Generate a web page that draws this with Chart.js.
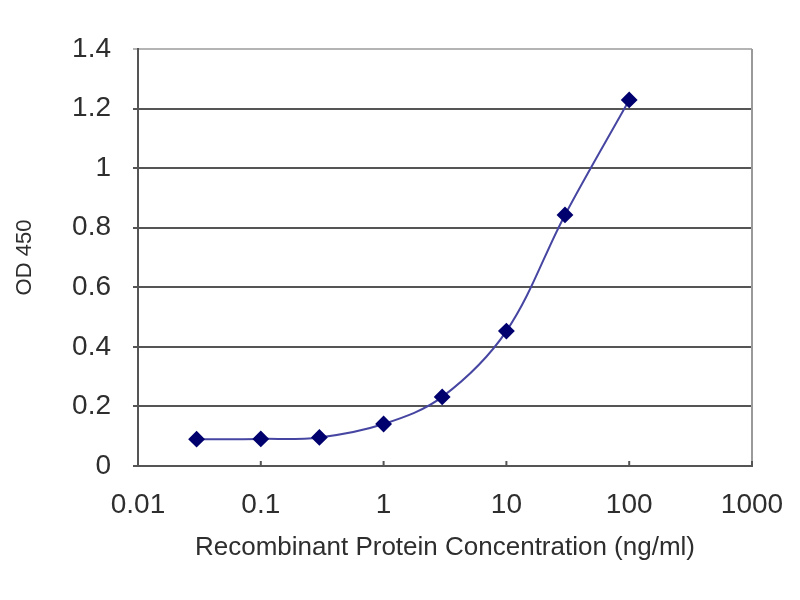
<!DOCTYPE html>
<html>
<head>
<meta charset="utf-8">
<script src="https://cdn.jsdelivr.net/npm/chart.js@4.4.1/dist/chart.umd.min.js"></script>
<style>
  html, body { margin: 0; padding: 0; background: #fff; }
  #wrap { width: 800px; height: 600px; }
</style>
</head>
<body>
<div id="wrap"><canvas id="odChart"></canvas></div>
<script>
// data
var concentrations = [0.03, 0.1, 0.3, 1, 3, 10, 30, 100];
var od450 = [0.090, 0.091, 0.096, 0.141, 0.232, 0.453, 0.843, 1.229];
var xTicks = [0.01, 0.1, 1, 10, 100, 1000];
var xTickLabels = ['0.01', '0.1', '1', '10', '100', '1000'];
var yTicks = [0, 0.2, 0.4, 0.6, 0.8, 1, 1.2, 1.4];
var yTickLabels = ['0', '0.2', '0.4', '0.6', '0.8', '1', '1.2', '1.4'];

var points = concentrations.map(function (c, i) { return { x: c, y: od450[i] } });

// right edge of the plot area + small inward x tick marks (Excel style)
var frame = {
  id: 'frame',
  beforeDatasetsDraw: function (chart) {
    var a = chart.chartArea, c = chart.ctx, xs = chart.scales.x;
    c.save();
    c.strokeStyle = '#9a9a9a';
    c.lineWidth = 2;
    c.beginPath();
    c.moveTo(a.right, a.top);
    c.lineTo(a.right, a.bottom);
    c.stroke();
    c.strokeStyle = '#555';
    c.beginPath();
    xTicks.forEach(function (v) {
      var px = xs.getPixelForValue(v);
      c.moveTo(px, a.bottom);
      c.lineTo(px, a.bottom - 5);
    });
    c.stroke();
    c.restore();
  }
};

var ctx = document.getElementById('odChart').getContext('2d');

var chart = new Chart(ctx, {
  type: 'line',
  data: {
    datasets: [{
      data: points,
      borderColor: '#4646a2',
      borderWidth: 2,
      tension: 0.35,
      pointStyle: 'rectRot',
      pointRadius: 7,
      pointBackgroundColor: '#00006e',
      pointBorderColor: '#00006e',
      fill: false
    }]
  },
  options: {
    responsive: true,
    maintainAspectRatio: false,
    animation: false,
    layout: { padding: { top: 49, right: 48, bottom: 0, left: 0 } },
    plugins: { legend: { display: false }, tooltip: { enabled: false } },
    scales: {
      x: {
        type: 'logarithmic',
        min: 0.01,
        max: 1000,
        afterBuildTicks: function (scale) {
          scale.ticks = xTicks.map(function (v) { return { value: v } });
        },
        afterFit: function (scale) {
          scale.height = 134;
          scale.paddingLeft = 0;
          scale.paddingRight = 0;
        },
        grid: { display: false, drawTicks: false },
        border: { display: true, color: '#555', width: 2 },
        ticks: {
          autoSkip: false,
          maxRotation: 0,
          padding: 22,
          color: '#2e2e2e',
          font: { family: 'Liberation Sans, Arial, sans-serif', size: 28 },
          callback: function (v) {
            var i = xTicks.indexOf(v);
            return i >= 0 ? xTickLabels[i] : '';
          }
        },
        title: {
          display: true,
          text: 'Recombinant Protein Concentration (ng/ml)',
          color: '#2e2e2e',
          font: { family: 'Liberation Sans, Arial, sans-serif', size: 26 },
          padding: { top: 0, bottom: 37 }
        }
      },
      y: {
        min: 0,
        max: 1.4,
        afterBuildTicks: function (scale) {
          scale.ticks = yTicks.map(function (v) { return { value: v } });
        },
        afterFit: function (scale) { scale.width = 138 },
        grid: {
          color: function (c) { return c.tick && c.tick.value === 1.4 ? '#b4b4b4' : '#555' },
          lineWidth: 2,
          tickLength: 5
        },
        border: { display: true, color: '#555', width: 2 },
        ticks: {
          padding: 22,
          color: '#2e2e2e',
          font: { family: 'Liberation Sans, Arial, sans-serif', size: 28 },
          callback: function (v) {
            var i = yTicks.indexOf(v);
            return i >= 0 ? yTickLabels[i] : '';
          }
        },
        title: {
          display: true,
          text: 'OD 450',
          color: '#2e2e2e',
          font: { family: 'Liberation Sans, Arial, sans-serif', size: 22 },
          padding: { top: 12, bottom: 0 }
        }
      }
    }
  },
  plugins: [frame]
});
</script>
</body>
</html>
